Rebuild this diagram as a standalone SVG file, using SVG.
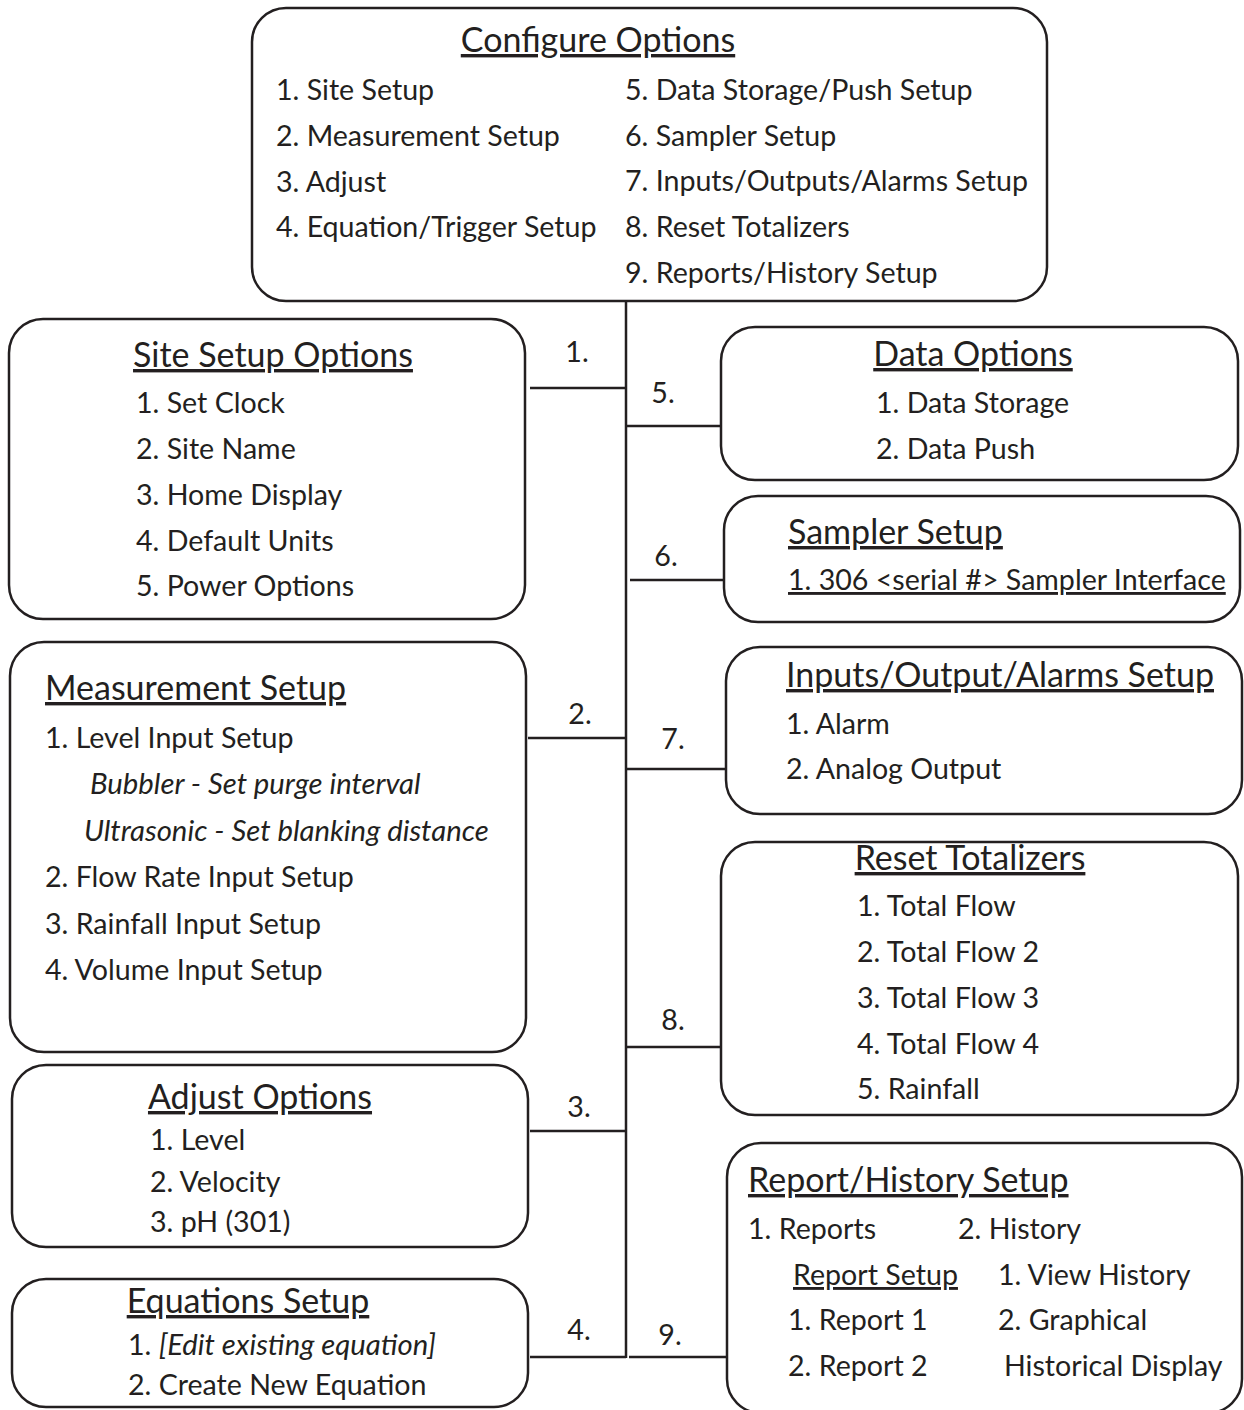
<svg xmlns="http://www.w3.org/2000/svg" width="1244" height="1410" viewBox="0 0 1244 1410">
<style>
.box{fill:#fff;stroke:#231f20;stroke-width:2.5}
.ln{stroke:#231f20;stroke-width:2.5;fill:none}
text{font-family:Lato,"Open Sans",sans-serif;fill:#231f20;font-size:28.6px}
.t{font-size:34px;text-decoration:underline}
.u{text-decoration:underline}
.i{font-style:italic;font-size:29.3px}
.m{text-anchor:middle}
</style>
<rect width="1244" height="1410" fill="#fff"/>
<g id="connectors">
<line class="ln" x1="626" y1="301" x2="626" y2="1358"/>
<line class="ln" x1="530" y1="388" x2="626" y2="388"/>
<line class="ln" x1="626" y1="426" x2="722" y2="426"/>
<line class="ln" x1="630" y1="580" x2="725" y2="580"/>
<line class="ln" x1="528" y1="738" x2="626" y2="738"/>
<line class="ln" x1="626" y1="769" x2="727" y2="769"/>
<line class="ln" x1="626" y1="1047" x2="722" y2="1047"/>
<line class="ln" x1="530" y1="1131" x2="626" y2="1131"/>
<line class="ln" x1="530" y1="1357" x2="626" y2="1357"/>
<line class="ln" x1="629" y1="1357" x2="727" y2="1357"/>
<text x="577" y="362" class="m">1.</text>
<text x="663" y="403" class="m">5.</text>
<text x="666" y="566" class="m">6.</text>
<text x="580" y="724" class="m">2.</text>
<text x="673" y="749" class="m">7.</text>
<text x="673" y="1030" class="m">8.</text>
<text x="579" y="1117" class="m">3.</text>
<text x="579" y="1340" class="m">4.</text>
<text x="670" y="1345" class="m">9.</text>
</g>
<g id="configure">
<rect class="box" x="252" y="8" width="795" height="293" rx="34"/>
<text x="598" y="52" class="t m">Configure Options</text>
<text x="276" y="100">1. Site Setup</text>
<text x="276" y="146">2. Measurement Setup</text>
<text x="276" y="192">3. Adjust</text>
<text x="276" y="237">4. Equation/Trigger Setup</text>
<text x="625" y="100">5. Data Storage/Push Setup</text>
<text x="625" y="146">6. Sampler Setup</text>
<text x="625" y="191">7. Inputs/Outputs/Alarms Setup</text>
<text x="625" y="237">8. Reset Totalizers</text>
<text x="625" y="283">9. Reports/History Setup</text>
</g>
<g id="site">
<rect class="box" x="9" y="319" width="516" height="300" rx="34"/>
<text x="273" y="367" class="t m">Site Setup Options</text>
<text x="136" y="413">1. Set Clock</text>
<text x="136" y="459">2. Site Name</text>
<text x="136" y="505">3. Home Display</text>
<text x="136" y="551">4. Default Units</text>
<text x="136" y="596">5. Power Options</text>
</g>
<g id="measurement">
<rect class="box" x="10" y="642" width="516" height="410" rx="34"/>
<text x="45" y="700" class="t">Measurement Setup</text>
<text x="45" y="748">1. Level Input Setup</text>
<text x="90" y="794" class="i">Bubbler - Set purge interval</text>
<text x="84" y="841" class="i">Ultrasonic - Set blanking distance</text>
<text x="45" y="887">2. Flow Rate Input Setup</text>
<text x="45" y="934">3. Rainfall Input Setup</text>
<text x="45" y="980">4. Volume Input Setup</text>
</g>
<g id="adjust">
<rect class="box" x="12" y="1065" width="516" height="182" rx="34"/>
<text x="260" y="1109" class="t m">Adjust Options</text>
<text x="150" y="1150">1. Level</text>
<text x="150" y="1192">2. Velocity</text>
<text x="150" y="1232">3. pH (301)</text>
</g>
<g id="equations">
<rect class="box" x="12" y="1279" width="516" height="128" rx="34"/>
<text x="248" y="1313" class="t m">Equations Setup</text>
<text x="128" y="1355">1. <tspan class="i">[Edit existing equation]</tspan></text>
<text x="128" y="1395">2. Create New Equation</text>
</g>
<g id="data">
<rect class="box" x="721" y="327" width="517" height="153" rx="34"/>
<text x="973" y="366" class="t m">Data Options</text>
<text x="876" y="413">1. Data Storage</text>
<text x="876" y="459">2. Data Push</text>
</g>
<g id="sampler">
<rect class="box" x="724" y="496" width="516" height="126" rx="34"/>
<text x="788" y="544" class="t">Sampler Setup</text>
<text x="788" y="590" class="u">1. 306 &lt;serial #&gt; Sampler Interface</text>
</g>
<g id="inputs">
<rect class="box" x="726" y="647" width="516" height="167" rx="34"/>
<text x="786" y="687" class="t">Inputs/Output/Alarms Setup</text>
<text x="786" y="734">1. Alarm</text>
<text x="786" y="779">2. Analog Output</text>
</g>
<g id="reset">
<rect class="box" x="721" y="842" width="517" height="273" rx="34"/>
<text x="970" y="870" class="t m">Reset Totalizers</text>
<text x="857" y="916">1. Total Flow</text>
<text x="857" y="962">2. Total Flow 2</text>
<text x="857" y="1008">3. Total Flow 3</text>
<text x="857" y="1054">4. Total Flow 4</text>
<text x="857" y="1099">5. Rainfall</text>
</g>
<g id="report">
<rect class="box" x="727" y="1143" width="515" height="270" rx="34"/>
<text x="748" y="1192" class="t">Report/History Setup</text>
<text x="748" y="1239">1. Reports</text>
<text x="958" y="1239">2. History</text>
<text x="793" y="1285" class="u">Report Setup</text>
<text x="998" y="1285">1. View History</text>
<text x="788" y="1330">1. Report 1</text>
<text x="998" y="1330">2. Graphical</text>
<text x="788" y="1376">2. Report 2</text>
<text x="1004" y="1376">Historical Display</text>
</g>
</svg>
